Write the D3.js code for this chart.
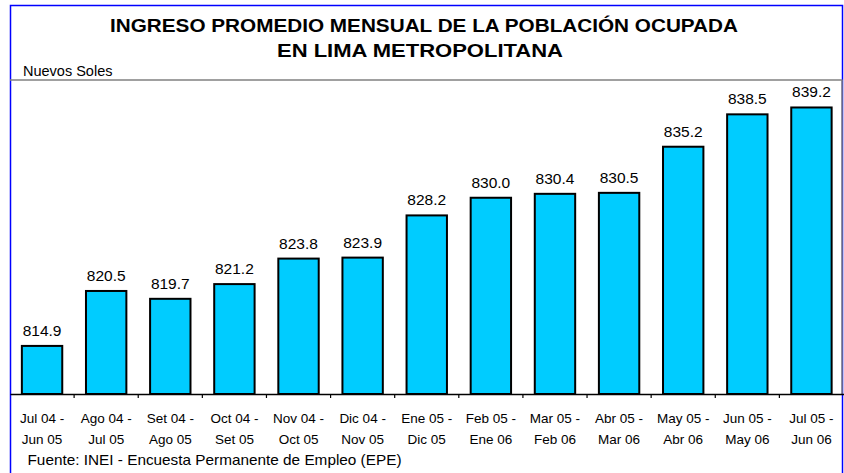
<!DOCTYPE html>
<html><head><meta charset="utf-8">
<script src="https://cdn.jsdelivr.net/npm/d3@7"></script>
<style>body{margin:0;background:#fff}svg{display:block}text{font-family:"Liberation Sans",Arial,sans-serif}</style>
</head><body><svg id="c" width="844" height="473"></svg>
<script>
const categoriesLine1 = ["Jul 04 -","Ago 04 -","Set 04 -","Oct 04 -","Nov 04 -","Dic 04 -","Ene 05 -","Feb 05 -","Mar 05 -","Abr 05 -","May 05 -","Jun 05 -","Jul 05 -"];
const categoriesLine2 = ["Jun 05","Jul 05","Ago 05","Set 05","Oct 05","Nov 05","Dic 05","Ene 06","Feb 06","Mar 06","Abr 06","May 06","Jun 06"];
const values = [814.9,820.5,819.7,821.2,823.8,823.9,828.2,830.0,830.4,830.5,835.2,838.5,839.2];
const titleLines = ["INGRESO PROMEDIO MENSUAL DE LA POBLACIÓN OCUPADA","EN LIMA METROPOLITANA"];
const unitLabel = "Nuevos Soles";
const sourceLabel = "Fuente: INEI - Encuesta Permanente de Empleo (EPE)";

const svg = d3.select("#c");
const L = 10, R = 842.5, T = 80, B = 394;
const x = d3.scaleBand().domain(d3.range(values.length)).range([L, R+1]).paddingInner(0.37).paddingOuter(0.185);
const y = d3.scaleLinear().domain([810, 842]).range([B, T]);

// outer frame
svg.append("rect").attr("x",10.5).attr("y",5.5).attr("width",832).attr("height",480)
  .attr("fill","none").attr("stroke","#0000ff").attr("stroke-width",1.5);
// plot area border
svg.append("line").attr("x1",10).attr("x2",R).attr("y1",T).attr("y2",T).attr("stroke","#808080").attr("stroke-width",1.5);
svg.append("line").attr("x1",R-0.5).attr("x2",R-0.5).attr("y1",T).attr("y2",B).attr("stroke","#808080").attr("stroke-width",1.5);

// title
titleLines.forEach((t,i)=>{
  svg.append("text").attr("x",[424,420][i]).attr("y",[32,57][i]).attr("text-anchor","middle")
    .attr("font-size",19).attr("font-weight","bold").attr("textLength",[628,286][i]).attr("lengthAdjust","spacingAndGlyphs").text(t);
});
svg.append("text").attr("x",23).attr("y",76).attr("font-size",14.5).text(unitLabel);

// bars
svg.selectAll("rect.bar").data(values).join("rect").attr("class","bar")
  .attr("x",(d,i)=>x(i)).attr("width",x.bandwidth())
  .attr("y",d=>y(d)).attr("height",d=>B-y(d))
  .attr("fill","#00ccff").attr("stroke","#000").attr("stroke-width",2);

svg.selectAll("text.val").data(values).join("text").attr("class","val")
  .attr("x",(d,i)=>x(i)+x.bandwidth()/2).attr("y",d=>y(d)-10)
  .attr("text-anchor","middle").attr("font-size",15.5).text(d=>d.toFixed(1));

// x axis
const axis = d3.axisBottom(x).tickSize(0).tickFormat("");
const g = svg.append("g").attr("transform",`translate(0,${B})`).call(axis);
g.select(".domain").attr("stroke","#000").attr("stroke-width",1.5);
const step = x.step();
d3.range(1, values.length).forEach(i=>{
  const xx = x(i) - step*x.paddingInner()/2;
  g.append("line").attr("x1",xx).attr("x2",xx).attr("y1",0).attr("y2",4).attr("stroke","#000").attr("stroke-width",1.2);
});
categoriesLine1.forEach((c,i)=>{
  const cx = x(i)+x.bandwidth()/2;
  svg.append("text").attr("x",cx).attr("y",423).attr("text-anchor","middle").attr("font-size",13.5).text(c);
  svg.append("text").attr("x",cx).attr("y",444).attr("text-anchor","middle").attr("font-size",13.5).text(categoriesLine2[i]);
});
svg.append("text").attr("x",27.5).attr("y",465).attr("font-size",15).attr("textLength",374).attr("lengthAdjust","spacingAndGlyphs").text(sourceLabel);
</script></body></html>
